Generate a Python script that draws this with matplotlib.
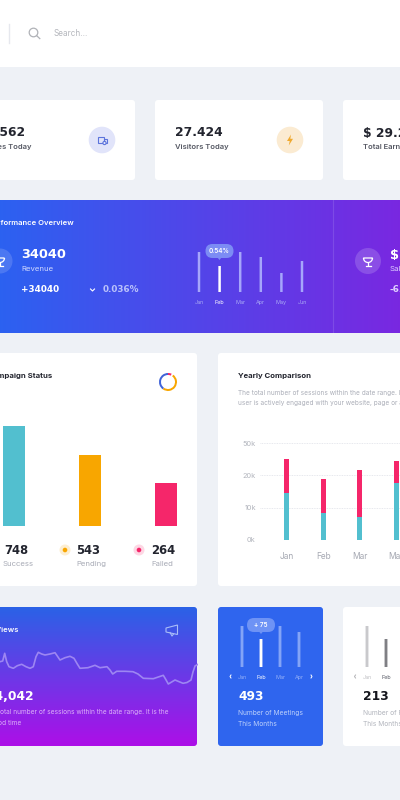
import numpy as np
import matplotlib
matplotlib.use("Agg")
import matplotlib.pyplot as plt
from matplotlib.patches import Circle, FancyBboxPatch, Polygon, Wedge, Rectangle

W, H = 400, 800
BG = "#eef1f6"
DARK = "#23252f"
GREY = "#a8abb6"
TEAL = "#52bfcf"
ORANGE = "#f8a600"
PINK = "#f5266a"
NUM_FONT = "DejaVu Sans"
TXT_FONT = "Inter"

# data
month_names = ["Jan", "Feb", "Mar", "Apr", "May", "Jun"]
overview_months = [40, 26, 40, 35, 19, 31]
campaign_bars = [100, 71, 43]
campaign_counts = ["748", "543", "264"]
campaign_names = ["Success", "Pending", "Failed"]
campaign_colors = [TEAL, ORANGE, PINK]
donut_shares = [7, 3, 50, 40]
yearly_months = ["Jan", "Feb", "Mar", "May"]
yearly_teal = [14.5, 8.3, 7.1, 17.5]
yearly_pink = [10.5, 10.5, 14.5, 6.8]
yearly_ticks = [0, 10, 20, 30]
yearly_tick_labels = ["0k", "10k", "20k", "50k"]
view_x = [0, 2.7, 4.7, 6.7, 9, 13.3, 17.3, 21.7, 26, 30, 33.3, 36, 38.3, 41.7, 45, 50, 55, 57.3, 60,
          65, 70, 74, 77.3, 80, 88, 95, 100, 107, 110, 112.7, 116.7, 125, 133, 138, 143.3, 153.3,
          163.3, 165.5, 168.3, 175, 183, 187, 191, 193, 195, 198]
view_y = [24.3, 25, 32.7, 24.3, 19.3, 17.7, 20.3, 21.7, 19.3, 17.7, 19.3, 29.3, 33.7, 32, 31, 32, 33.3, 30, 26,
          28.3, 29.7, 27.7, 22, 17.7, 18.3, 20.7, 18.3, 19.3, 16, 12, 14.7, 14.7, 14.3, 12, 7.7, 7.3,
          10.7, 7, 2, 6, 2.7, 3.5, 6, 14, 20, 21.7]
meeting_bars = [41, 28, 41, 35]
other_bars = [41, 28]


def px_axes(left, top, right, bottom, zorder=1):
    a = fig.add_axes([left / W, 1 - bottom / H, (right - left) / W, (bottom - top) / H], zorder=zorder)
    a.patch.set_visible(False)
    for s in a.spines.values():
        s.set_visible(False)
    return a


def card(x0, y0, x1, y1, color="white", r=3):
    p = FancyBboxPatch((x0 + r, y0 + r), x1 - x0 - 2 * r, y1 - y0 - 2 * r,
                       boxstyle=f"round,pad={r},rounding_size={r}", fc=color, ec="none")
    back.add_patch(p)
    return p


def gradient_card(x0, y0, x1, y1, c0, c1, vertical=False):
    p = card(x0, y0, x1, y1, "none")
    t = np.linspace(0, 1, 256)
    c0 = np.array(matplotlib.colors.to_rgb(c0))
    c1 = np.array(matplotlib.colors.to_rgb(c1))
    img = c0[None, :] * (1 - t[:, None]) + c1[None, :] * t[:, None]
    img = img[:, None, :] if vertical else img[None, :, :]
    im = back.imshow(img, extent=(x0, x1, y1, y0), aspect="auto", interpolation="bilinear")
    im.set_clip_path(p)
    back.set_xlim(0, W)
    back.set_ylim(H, 0)


def num(x, y, s, size=8.8, color=DARK, ha="left"):
    front.text(x, y, s, fontsize=size, color=color, ha=ha, va="center", family=NUM_FONT, fontweight="bold")


def txt(x, y, s, size=5, color=GREY, ha="left", weight="normal"):
    front.text(x, y, s, fontsize=size, color=color, ha=ha, va="center", family=TXT_FONT, fontweight=weight)


def tooltip(x, y, s, color):
    front.add_patch(FancyBboxPatch((x - 8, y - 1), 16, 2, boxstyle="round,pad=6,rounding_size=7", fc=color, ec="none"))
    front.add_patch(Polygon([(x - 2, y + 6.5), (x + 2, y + 6.5), (x, y + 9)], fc=color, ec="none"))
    txt(x, y, s, 4.6, "white", ha="center", weight="semibold")


def trophy(x, y, color="white"):
    # y axis is flipped here so 0-180 is the lower half of the circle
    front.add_patch(Wedge((x, y - 3), 4.5, 0, 180, fc="none", ec=color, lw=0.9))
    front.plot([x, x], [y + 1.5, y + 4], color=color, lw=0.9)
    front.plot([x - 2.5, x + 2.5], [y + 4.5, y + 4.5], color=color, lw=0.9)


def chevron(x, y, color, d):
    front.plot([x - d * 1.0, x, x - d * 1.0], [y - 1.5, y, y + 1.5], color=color, lw=0.7)


def month_bars(left, top, right, bottom, values, labels, colors, lab_colors, width):
    a = px_axes(left, top, right, bottom)
    bars = a.bar(range(len(values)), values, width=width, color=colors)
    for b in bars:
        b.set_snap(False)
    a.set_xlim(-0.5, len(labels) - 0.5)
    a.set_ylim(0, bottom - top)
    a.set_yticks([])
    a.set_xticks(range(len(labels)), labels, fontsize=3.9, family=TXT_FONT)
    a.tick_params(axis="x", length=0, pad=5.6)
    for t, c in zip(a.get_xticklabels(), lab_colors):
        t.set_color(c)
    return a


fig = plt.figure(figsize=(W / 100, H / 100), dpi=100, facecolor=BG)
back = fig.add_axes([0, 0, 1, 1], zorder=0)
back.set_xlim(0, W)
back.set_ylim(H, 0)
back.axis("off")
front = fig.add_axes([0, 0, 1, 1], zorder=3)
front.set_xlim(0, W)
front.set_ylim(H, 0)
front.axis("off")
front.patch.set_visible(False)

# header
back.add_patch(Rectangle((0, 0), W, 66.5, fc="white", ec="none"))
back.plot([9, 9], [24, 43], color="#e6e8ee", lw=1)
front.add_patch(Circle((33.5, 32.5), 4.3, fc="none", ec="#b0b2b7", lw=0.9))
front.plot([36.6, 39.8], [35.6, 38.6], color="#b0b2b7", lw=0.9)
txt(54, 33.5, "Search...", 5.9, "#b5b7bd")

# stat cards
card(-10, 100, 135, 180)
card(155, 100, 323, 180)
card(343, 100, 420, 180)
num(26, 133, "1,562", ha="right")
txt(32, 147, "Sales Today", 5.5, "#555863", ha="right", weight="semibold")
front.add_patch(Circle((102, 140), 13.3, fc="#e1e4fa", ec="none"))
front.add_patch(Rectangle((97.5, 136.5), 6, 6.5, fc="none", ec="#5c74dc", lw=0.8))
front.add_patch(Rectangle((103.5, 139), 3.5, 4, fc="none", ec="#5c74dc", lw=0.8))
front.add_patch(Circle((104.5, 143), 1.6, fc="#e1e4fa", ec="#5c74dc", lw=0.8))
num(175, 133, "27.424")
txt(175, 147, "Visitors Today", 5.5, "#555863", weight="semibold")
front.add_patch(Circle((290, 140), 13.3, fc="#fbebd2", ec="none"))
front.add_patch(Polygon([(291, 134.5), (287, 141), (289.7, 141), (288.8, 145.5), (293, 138.8), (290.3, 138.8)], fc="#f0a92e", ec="none"))
num(363, 133, "$ 29.245")
txt(363, 147, "Total Earnings", 5.5, "#555863", weight="semibold")

# overview banner
gradient_card(-5, 200, 420, 333, "#2b62f1", "#7d25e0")
back.plot([333, 333], [200, 333], color="white", alpha=0.12, lw=0.8)
txt(74, 223, "Performance Overview", 5.5, "white", ha="right", weight="semibold")
front.add_patch(Circle((0, 261), 12.5, fc="white", alpha=0.15, ec="none"))
trophy(0, 261)
num(21, 255, "34040", 9.3, "white")
txt(21, 269, "Revenue", 5.6, "#cfd8ff")
num(21, 290, "+34040", 6.4, "white")
front.plot([90.5, 92.5, 94.5], [289, 291, 289], color="white", lw=0.8)
num(103, 290, "0.036%", 6.4, "#b9c1fb")
front.add_patch(Circle((368, 261), 13, fc="white", alpha=0.17, ec="none"))
trophy(368, 261)
num(390, 255, "$ 29.2", 9.3, "white")
txt(390, 269, "Sales", 5.6, "#e0d2ff")
num(390, 290, "-6.4", 6.4, "#e0d2ff")

ax = month_bars(188.7, 250, 312.3, 292, overview_months, month_names,
                ["#a6a6fb", "white", "#a6a6fb", "#a6a6fb", "#a6a6fb", "#a6a6fb"],
                ["#a9a9f5", "white", "#a9a9f5", "#a9a9f5", "#a9a9f5", "#a9a9f5"], 0.12)
tooltip(219.5, 251, "0.54%", "#7c8cf4")

# campaign card
card(-10, 353, 197, 586)
txt(52, 376, "Campaign Status", 5.6, DARK, ha="right", weight="bold")
ax = px_axes(0, 426, 178, 526)
ax.bar(range(3), campaign_bars, width=0.29, color=campaign_colors)
ax.set_xlim(-14 / 76, 164 / 76)
ax.set_ylim(0, 100)
ax.set_xticks([])
ax.set_yticks([])
donut = px_axes(158, 372, 178, 392)
donut.pie(donut_shares, colors=[PINK, "white", ORANGE, "#3f63d8"], startangle=90, counterclock=False,
          radius=0.9, wedgeprops={"width": 0.2})
donut.set_xlim(-1, 1)
donut.set_ylim(-1, 1)
for x, c in zip([65, 139], [ORANGE, PINK]):
    front.add_patch(Circle((x, 550), 5.5, fc=c, alpha=0.18, ec="none"))
    front.add_patch(Circle((x, 550), 2.3, fc=c, ec="none"))
num(28, 550.5, campaign_counts[0], 8.4, ha="right")
num(76, 550.5, campaign_counts[1], 8.4)
num(151, 550.5, campaign_counts[2], 8.4)
txt(34, 564, campaign_names[0], 5.6, GREY, ha="right")
txt(76, 564, campaign_names[1], 5.6, GREY)
txt(151, 564, campaign_names[2], 5.6, GREY)

# yearly comparison
card(218, 353, 420, 586)
txt(238, 376, "Yearly Comparison", 5.6, DARK, weight="bold")
txt(238, 393, "The total number of sessions within the date range. It is the period time a", 4.65, "#abaeb8")
txt(238, 402.5, "user is actively engaged with your website, page or app", 4.65, "#abaeb8")
ax = px_axes(260, 443, 400, 540)
pos = np.arange(4)
ax.bar(pos, yearly_teal, width=0.14, color=TEAL)
ax.bar(pos, yearly_pink, width=0.14, bottom=yearly_teal, color=PINK)
ax.set_xlim(-0.72, -0.72 + 140 / 36.7)
ax.set_ylim(0, 30)
ax.set_yticks(yearly_ticks, yearly_tick_labels)
ax.set_xticks(pos, yearly_months)
ax.grid(axis="y", color="#dfe1e8", lw=0.6, ls=(0, (1, 1)))
ax.set_axisbelow(True)
ax.tick_params(axis="y", length=0, pad=3, labelsize=5.3, labelcolor="#b2b5bd")
ax.tick_params(axis="x", length=0, pad=8.6, labelsize=6, labelcolor="#a5a8b2")
for t in ax.get_xticklabels() + ax.get_yticklabels():
    t.set_family(TXT_FONT)

# views card
gradient_card(-10, 607, 197, 746, "#2a62e6", "#ad0fe8", vertical=True)
ax = px_axes(0, 640, 198, 686)
ax.plot(view_x, view_y, color="#9d86f2", lw=1.2, solid_joinstyle="round")
ax.set_xlim(0, 198)
ax.set_ylim(0, 46)
ax.set_xticks([])
ax.set_yticks([])
txt(18, 630, "Page Views", 5.5, "white", ha="right", weight="semibold")
front.add_patch(Polygon([(166, 628), (177.5, 625), (177.5, 634.5), (166, 632)], fc="none", ec="#a9bdf8", lw=0.8))
front.plot([170, 172, 173.5], [632.5, 636, 634], color="#a9bdf8", lw=0.8)
num(34, 697, "14,042", 8.8, "white", ha="right")
txt(168, 712, "The total number of sessions within the date range. It is the", 4.72, "#dcaff8", ha="right")
txt(21, 723, "period time", 4.72, "#dcaff8", ha="right")

# meetings card
card(218, 607, 323, 746, "#2f65ee")
ax = month_bars(232.5, 626, 308.5, 667, meeting_bars, month_names[:4],
                ["#83a4f7", "white", "#83a4f7", "#83a4f7"],
                ["#93aff8", "white", "#93aff8", "#93aff8"], 0.15)
tooltip(261, 625, "+ 75", "#6e93f5")
chevron(230, 676.5, "white", -1)
chevron(312, 676.5, "white", 1)
num(238, 697, "493", 8.8, "white")
txt(238, 713, "Number of Meetings", 4.8, "#bcd0fb")
txt(238, 723.5, "This Months", 4.8, "#bcd0fb")

# other card
card(343, 607, 420, 746)
ax = px_axes(357.5, 626, 395.5, 667)
bars = ax.bar(range(2), other_bars, width=0.15, color=["#c9c9cc", "#7f7f84"])
for b in bars:
    b.set_snap(False)
ax.set_xlim(-0.5, 1.5)
ax.set_ylim(0, 41)
ax.set_yticks([])
ax.set_xticks(range(2), ["Jan", "Feb"], fontsize=3.9, family=TXT_FONT)
ax.tick_params(axis="x", length=0, pad=5.6)
ax.get_xticklabels()[0].set_color("#c0c0c4")
ax.get_xticklabels()[1].set_color("#555863")
chevron(354.5, 676.5, "#b0b0b4", -1)
num(363, 697, "213", 8.8, "#14151c")
txt(363, 713, "Number of Projects", 4.8, "#b2b5bd")
txt(363, 723.5, "This Months", 4.8, "#b2b5bd")

fig.savefig("out.png", dpi=100, facecolor=BG)
